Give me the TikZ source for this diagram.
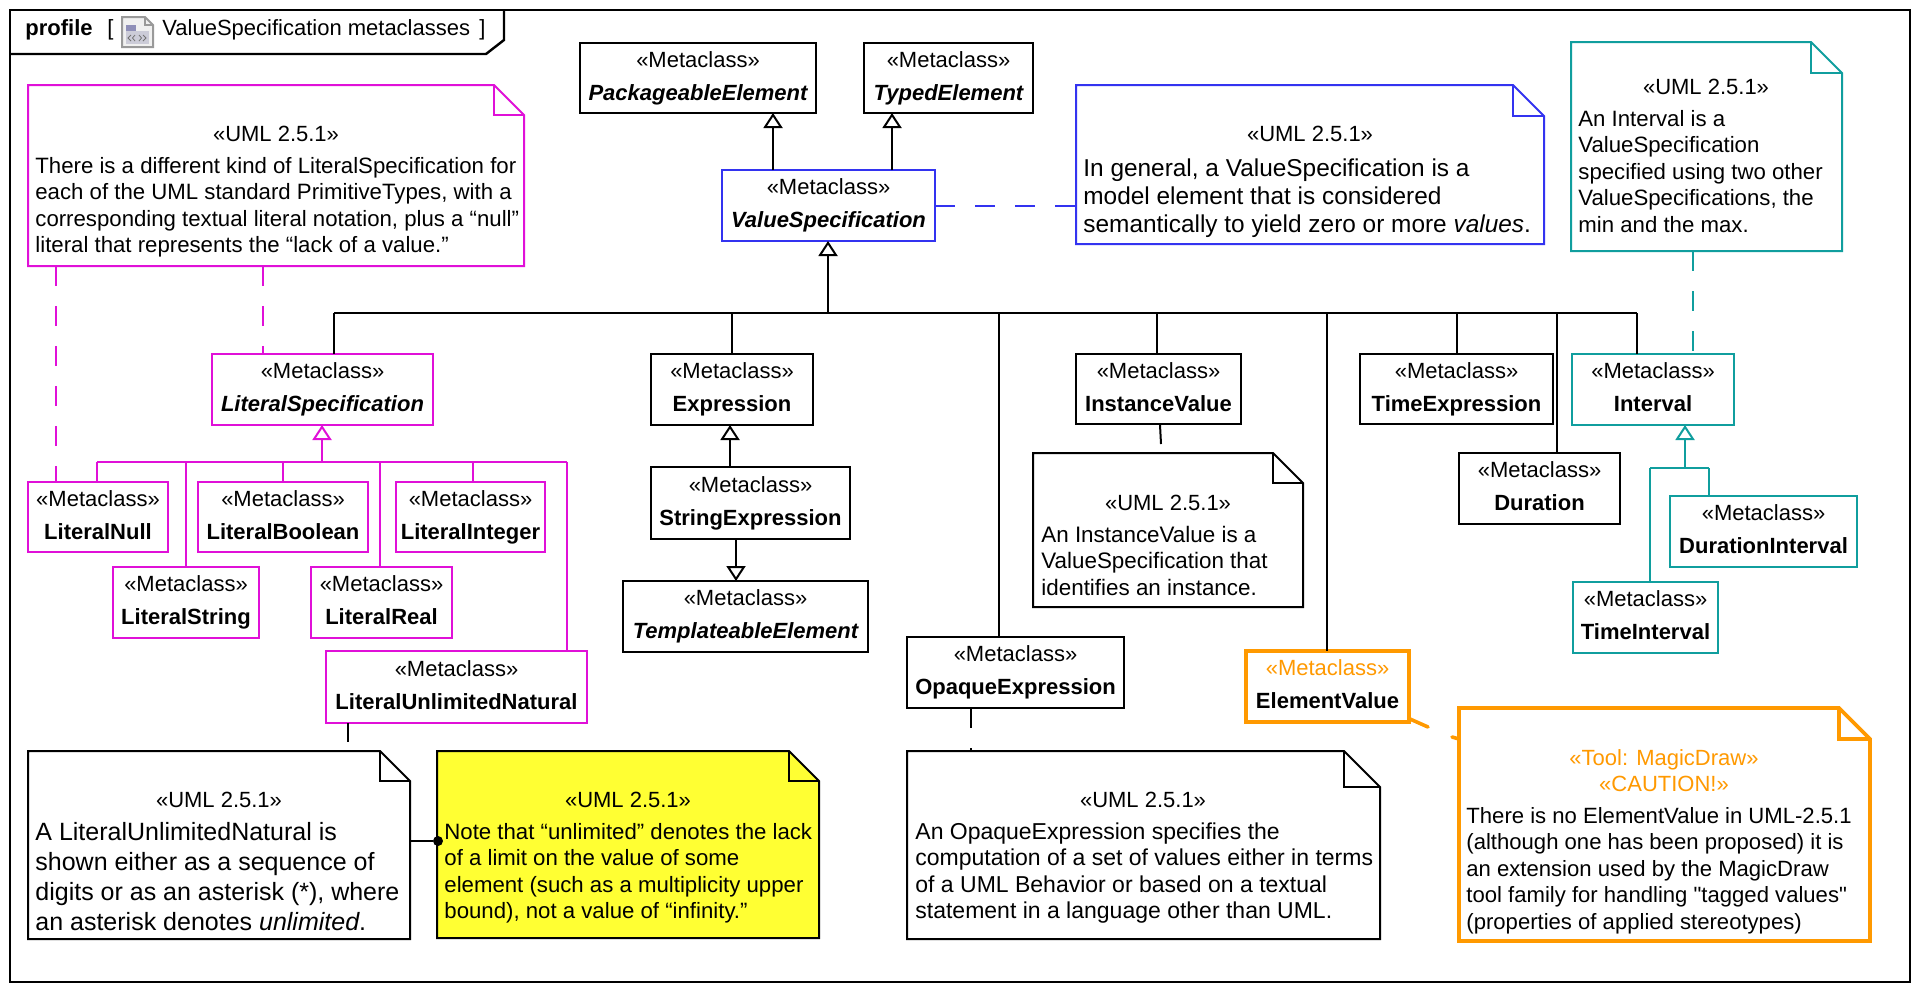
\documentclass[tikz,border=0pt]{standalone}
\usepackage{fontspec}
\setmainfont{Liberation Sans}
\newfontfamily\qf{Liberation Sans}
\usetikzlibrary{calc,arrows.meta}
\definecolor{cmag}{HTML}{E010D8}
\definecolor{cblue}{HTML}{3333F0}
\definecolor{cteal}{HTML}{109E9E}
\definecolor{corg}{HTML}{FF9900}
\definecolor{cyel}{HTML}{FFFF33}
\newcommand\ms{\rule[-2pt]{0pt}{9pt}}
\newcommand\bs{\rule{0pt}{9pt}}
\newcommand\mm{«Metaclass»}
\newcommand\uu{«UML 2.5.1»}
\tikzset{
  x=0.5pt,y=-0.5pt,
  ln/.style={line width=1pt,line cap=butt,line join=miter},
  klass/.style={ln,draw=black,fill=white,outer sep=0pt,inner sep=0pt,align=center,
    font=\fontsize{11}{16.5}\selectfont},
  mag/.style={draw=cmag},
  blu/.style={draw=cblue},
  tel/.style={draw=cteal},
  org/.style={draw=corg,line width=1.8pt},
  blk/.style={draw=black},
  ghost/.style={outer sep=0pt,inner sep=0pt},
  notep/.style={ln,fill=white},
  hdr/.style={anchor=base,inner sep=0pt,font=\fontsize{11}{13.25}\selectfont},
  body/.style 2 args={anchor=north west,inner sep=0pt,yshift=9pt,align=left,font=\fontsize{#1}{#2}\selectfont},
  gen/.style={ln,-{Triangle[open,fill=white,length=7.5pt,width=9.5pt]}},
  dsh/.style={ln,dash pattern=on 10pt off 10pt},
  titletxt/.style={anchor=base west,inner sep=0pt,font=\fontsize{11}{13}\selectfont},
}
\newcommand\mcb[8]{\node[klass,#1,minimum width={(#5-#3)*0.5pt},minimum height={(#6-#4)*0.5pt}] (#2) at ({(#3+#5)/2},{(#4+#6)/2}) {\textcolor{#7}{\ms\mm}\\\ms#8};}
\newcommand\notebox[7]{%
  \node[ghost,minimum width={(#5-#3)*0.5pt},minimum height={(#6-#4)*0.5pt}] (#2) at ({(#3+#5)/2},{(#4+#6)/2}) {};
  \draw[notep,#1] (#2.north west) -- ($(#2.north east)+(-#7,0)$) -- ($(#2.north east)+(0,#7)$) -- (#2.south east) -- (#2.south west) -- cycle;
  \draw[ln,#1,fill=none] ($(#2.north east)+(-#7,0)$) |- ($(#2.north east)+(0,#7)$);
}
\begin{document}
\begin{tikzpicture}
\useasboundingbox (0,0) rectangle (1920,992);
\fill[white] (0,0) rectangle (1920,992);
% frame
\node[ghost,draw=black,line width=1.2pt,minimum width=950pt,minimum height=486pt] (frame) at (960,496) {};
\coordinate (tabA) at (504,40);
\coordinate (tabB) at (486,54);
\draw[line width=1.2pt] (tabA |- frame.north) -- (tabA) -- (tabB) -- (tabB -| frame.west);
\node[titletxt,font=\fontsize{11}{13}\selectfont\bfseries] (ttl) at (25,35) {profile};
\node[titletxt] (tb1) at (107,35) {[};
\node[titletxt] (ttx) at (162,35) {ValueSpecification metaclasses};
\node[titletxt] (tb2) at (479,35) {]};
% icon
\draw[color=black!40,line width=1pt,fill=black!6] (122,17) -- (145,17) -- (153,25) -- (153,47) -- (122,47) -- cycle;
\draw[color=black!40,line width=.6pt] (145,17) |- (153,25);
\fill[fill=black!10!blue!25!gray!70] (126,25) rectangle (136,31);
\fill[fill=black!10!blue!15!gray!35] (126,31) rectangle (149,44);
\draw[color=black!55,line width=.4pt] (131,35) -- (128,38) -- (131,41) (135,35) -- (132.5,38) -- (135,41) (139,35) -- (141.5,38) -- (139,41) (143,35) -- (146,38) -- (143,41);
% connector helper coordinates
\coordinate (vP) at (773,170);
\coordinate (vT) at (892,170);
\coordinate (busV) at (828,313);
\coordinate (b1) at (334,313);
\coordinate (b2) at (732,313);
\coordinate (b3) at (999,313);
\coordinate (b4) at (1157,313);
\coordinate (b5) at (1327,313);
\coordinate (b6) at (1457,313);
\coordinate (b7) at (1557,313);
\coordinate (b8) at (1637,313);
\coordinate (mV) at (322,462);
\coordinate (m1) at (97,462);
\coordinate (m2) at (186,462);
\coordinate (m3) at (283,462);
\coordinate (m4) at (380,462);
\coordinate (m5) at (473,462);
\coordinate (m6) at (567,462);
\coordinate (d1) at (56,300);
\coordinate (d2) at (263,300);
\coordinate (d3) at (1693,300);
\coordinate (eV) at (730,450);
\coordinate (sV) at (736,560);
\coordinate (tV) at (1685,468);
\coordinate (t1) at (1650,468);
\coordinate (t2) at (1709,468);
\coordinate (s1a) at (348,742);
\coordinate (s2a) at (971,728);
\coordinate (s2b) at (971,748);
\coordinate (s3a) at (1160,425);
\coordinate (s3b) at (1161,444);
\coordinate (s4a) at (1410,719);
\coordinate (s4b) at (1428,727);
\coordinate (s4c) at (1452,737);
\coordinate (s4d) at (1459,739);
\coordinate (blueA) at (935,206);
% classes
\mcb{blk}{pe}{580}{43}{816}{113}{black}{\bfseries\itshape PackageableElement}
\mcb{blk}{te}{864}{43}{1033}{113}{black}{\bfseries\itshape TypedElement}
\mcb{blu}{vs}{722}{170}{935}{241}{black}{\bfseries\itshape ValueSpecification}
\mcb{mag}{lspec}{212}{354}{433}{425}{black}{\bfseries\itshape LiteralSpecification}
\mcb{mag}{lnull}{28}{482}{168}{552}{black}{\bfseries LiteralNull}
\mcb{mag}{lbool}{198}{482}{368}{552}{black}{\bfseries LiteralBoolean}
\mcb{mag}{lint}{396}{482}{545}{552}{black}{\bfseries LiteralInteger}
\mcb{mag}{lstr}{113}{567}{259}{638}{black}{\bfseries LiteralString}
\mcb{mag}{lreal}{311}{567}{452}{638}{black}{\bfseries LiteralReal}
\mcb{mag}{lun}{326}{651}{587}{723}{black}{\bfseries LiteralUnlimitedNatural}
\mcb{blk}{expr}{651}{354}{813}{425}{black}{\bfseries Expression}
\mcb{blk}{sexpr}{651}{467}{850}{539}{black}{\bfseries StringExpression}
\mcb{blk}{templ}{623}{581}{868}{652}{black}{\bfseries\itshape TemplateableElement}
\mcb{blk}{opq}{907}{637}{1124}{708}{black}{\bfseries OpaqueExpression}
\mcb{blk}{inst}{1076}{354}{1241}{424}{black}{\bfseries InstanceValue}
\mcb{blk}{texp}{1360}{354}{1553}{424}{black}{\bfseries TimeExpression}
\mcb{blk}{dur}{1459}{453}{1620}{524}{black}{\bfseries Duration}
\mcb{tel}{intv}{1572}{354}{1734}{425}{black}{\bfseries Interval}
\mcb{tel}{dint}{1670}{496}{1857}{567}{black}{\bfseries DurationInterval}
\mcb{tel}{tint}{1573}{582}{1718}{653}{black}{\bfseries TimeInterval}
\mcb{org}{ev}{1246}{651}{1409}{722}{corg}{\bfseries ElementValue}
% notes
\notebox{mag}{nlit}{28}{85}{524}{266}{30}
\node[hdr] (nlit-h) at (276,141) {\uu};
\node[body={11.1}{13.25}] (nlit-b) at (35,173) {\bs There is a different kind of LiteralSpecification for\\each of the UML standard PrimitiveTypes, with a\\corresponding textual literal notation, plus a “null”\\literal that represents the “lack of a value.”};
\notebox{blu}{nvs}{1076}{85}{1544}{244}{31}
\node[hdr] (nvs-h) at (1310,141) {\uu};
\node[body={12.2}{14}] (nvs-b) at (1083,176) {\bs In general, a ValueSpecification is a\\model element that is considered\\semantically to yield zero or more \textit{values}.};
\notebox{tel}{nint}{1571}{42}{1842}{251}{31}
\node[hdr] (nint-h) at (1706,94) {\uu};
\node[body={11.1}{13.25}] (nint-b) at (1578,126) {\bs An Interval is a\\ValueSpecification\\specified using two other\\ValueSpecifications, the\\min and the max.};
\notebox{blk}{ninst}{1033}{453}{1303}{607}{30}
\node[hdr] (ninst-h) at (1168,510) {\uu};
\node[body={11.2}{13.25}] (ninst-b) at (1041,542) {\bs An InstanceValue is a\\ValueSpecification that\\identifies an instance.};
\notebox{blk}{nlun}{28}{751}{410}{939}{30}
\node[hdr] (nlun-h) at (219,807) {\uu};
\node[body={12.5}{15}] (nlun-b) at (35,840) {\bs A LiteralUnlimitedNatural is\\shown either as a sequence of\\digits or as an asterisk (*), where\\an asterisk denotes \textit{unlimited}.};
\notebox{blk,fill=cyel}{nyel}{437}{751}{819}{938}{30}
\node[hdr] (nyel-h) at (628,807) {\uu};
\node[body={11.1}{13.25}] (nyel-b) at (444,839) {\bs Note that “unlimited” denotes the lack\\of a limit on the value of some\\element (such as a multiplicity upper\\bound), not a value of “infinity.”};
\notebox{blk}{nopq}{907}{751}{1380}{939}{36}
\node[hdr] (nopq-h) at (1143,807) {\uu};
\node[body={11.5}{13.25}] (nopq-b) at (915,839) {\bs An OpaqueExpression specifies the\\computation of a set of values either in terms\\of a UML Behavior or based on a textual\\statement in a language other than UML.};
\notebox{org}{nev}{1459}{708}{1870}{941}{31}
\node[hdr,text=corg] (nev-h) at (1664,765) {«Tool: MagicDraw»};
\node[hdr,text=corg] (nev-i) at (1664,791) {«CAUTION!»};
\node[body={11.05}{13.25}] (nev-b) at (1466,823) {\bs There is no ElementValue in UML-2.5.1\\(although one has been proposed) it is\\an extension used by the MagicDraw\\tool family for handling {\qf"}tagged values{\qf"}\\(properties of applied stereotypes)};
% connectors: generalizations
\draw[gen] (vP) -- (vP |- pe.south);
\draw[gen] (vT) -- (vT |- te.south);
\draw[gen] (busV) -- (busV |- vs.south);
\draw[ln] (b1) -- (b8);
\draw[ln] (b1) -- (b1 |- lspec.north);
\draw[ln] (b2) -- (b2 |- expr.north);
\draw[ln] (b3) -- (b3 |- opq.north);
\draw[ln] (b4) -- (b4 |- inst.north);
\draw[ln] (b5) -- (b5 |- ev.north);
\draw[ln] (b6) -- (b6 |- texp.north);
\draw[ln] (b7) -- (b7 |- dur.north);
\draw[ln] (b8) -- (b8 |- intv.north);
\draw[gen,cmag] (mV) -- (mV |- lspec.south);
\draw[ln,cmag] (m1) -- (m6);
\draw[ln,cmag] (m1) -- (m1 |- lnull.north);
\draw[ln,cmag] (m2) -- (m2 |- lstr.north);
\draw[ln,cmag] (m3) -- (m3 |- lbool.north);
\draw[ln,cmag] (m4) -- (m4 |- lreal.north);
\draw[ln,cmag] (m5) -- (m5 |- lint.north);
\draw[ln,cmag] (m6) -- (m6 |- lun.north);
\draw[gen] (eV |- sexpr.north) -- (eV |- expr.south);
\draw[gen] (sV |- sexpr.south) -- (sV |- templ.north);
\draw[gen,cteal] (tV) -- (tV |- intv.south);
\draw[ln,cteal] (t1) -- (t2);
\draw[ln,cteal] (t1) -- (t1 |- tint.north);
\draw[ln,cteal] (t2) -- (t2 |- dint.north);
% dashed note links
\draw[dsh,cmag] (d1 |- nlit.south) -- (d1 |- lnull.north);
\draw[dsh,cmag] (d2 |- nlit.south) -- (d2 |- lspec.north);
\draw[dsh,cblue] (vs.east |- blueA) -- (nvs.west |- blueA);
\draw[dsh,cteal] (d3 |- nint.south) -- (d3 |- intv.north);
% solid note stubs
\draw[ln] (s1a |- lun.south) -- (s1a);
\draw[ln] (s2a |- opq.south) -- (s2a);
\draw[ln] (s2b) -- (s2b |- nopq.north);
\draw[ln] (s3a) -- (s3b);
\draw[line width=1.8pt,corg,line cap=round] (s4a) -- (s4b);
\draw[line width=1.8pt,corg,line cap=round] (s4c) -- (s4d);
\node[circle,fill=black,inner sep=0pt,minimum size=5pt,outer sep=0pt] (dot) at (438,841) {};
\draw[ln] (nlun.east |- dot) -- (dot);
\end{tikzpicture}
\end{document}
